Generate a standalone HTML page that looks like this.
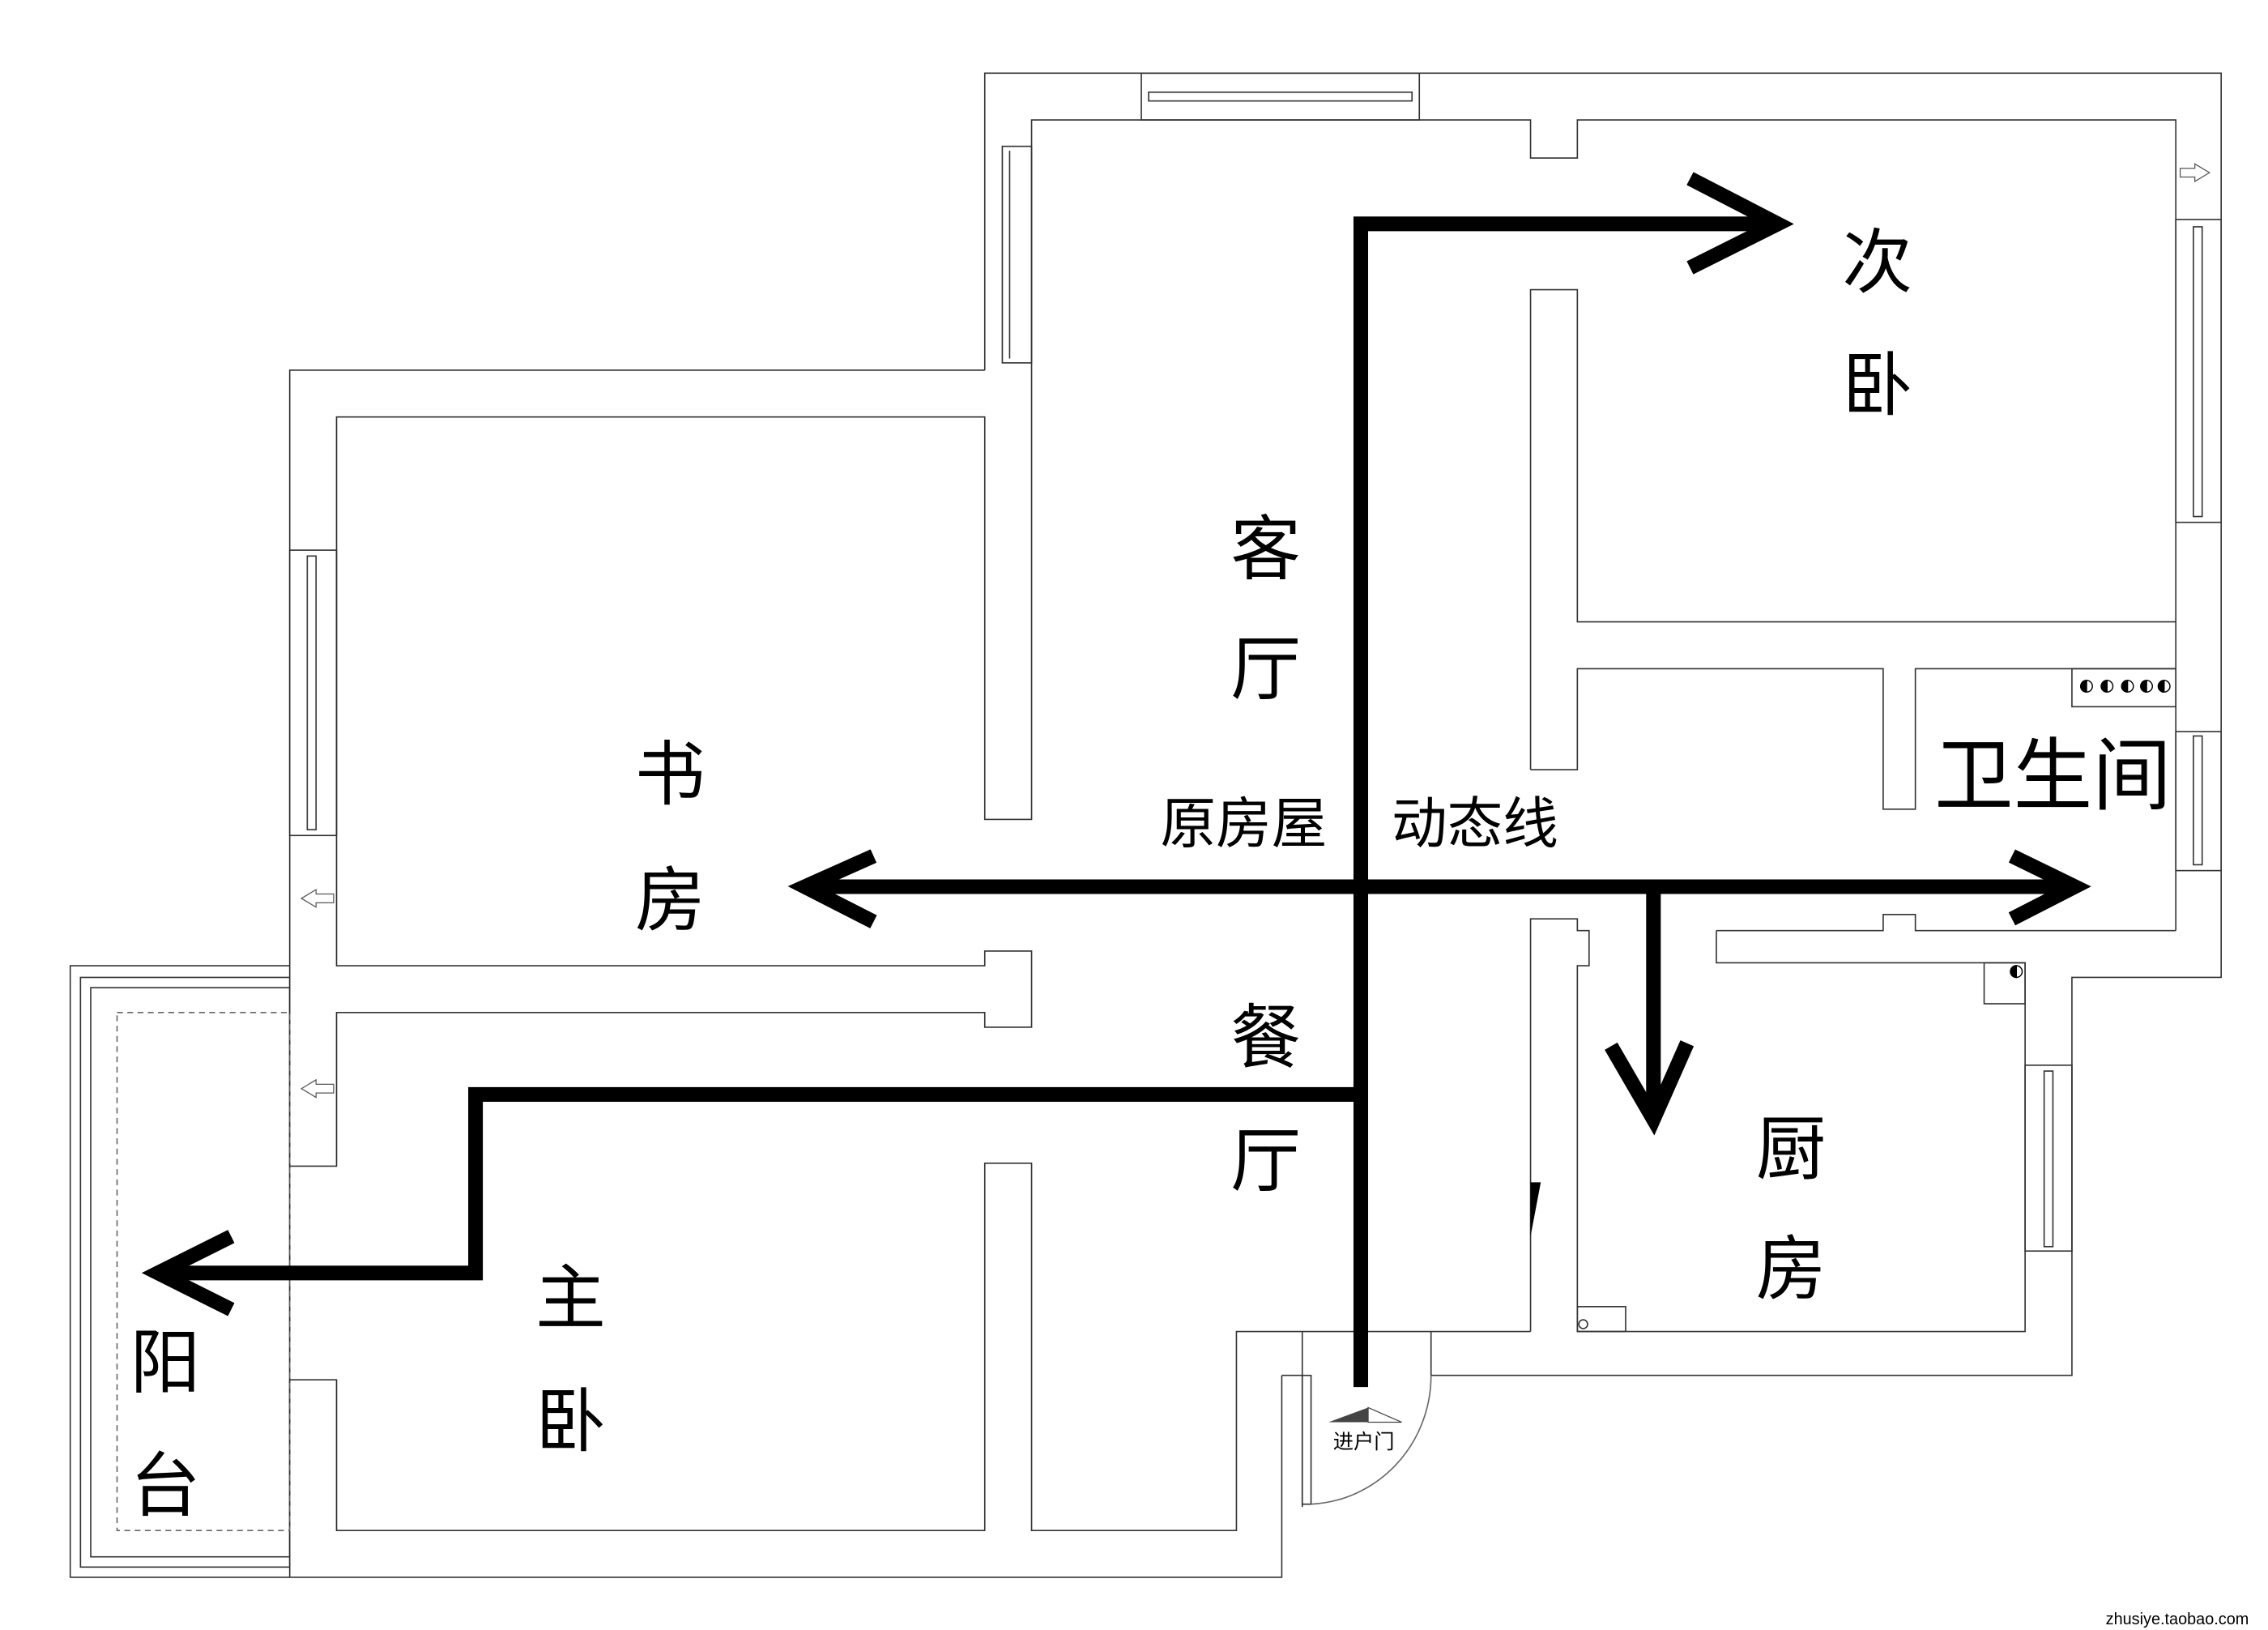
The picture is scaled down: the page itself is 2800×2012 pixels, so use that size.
<!DOCTYPE html>
<html><head><meta charset="utf-8"><style>
html,body{margin:0;padding:0;background:#fff;}
svg{display:block;}
text{font-family:"Liberation Sans","Noto Sans CJK SC",sans-serif;fill:#000;}
</style></head><body>
<svg width="2800" height="2012" viewBox="0 0 1550 1114" preserveAspectRatio="none" xmlns="http://www.w3.org/2000/svg">
<g fill="none" stroke="#333" stroke-width="0.9">
<!-- outer outline -->
<polyline points="673,253 673,50 1518,50 1518,668 1416,668 1416,940 978,940"/>
<polyline points="876,940 876,1078 48,1078 48,660 198,660"/>
<polyline points="198,797 198,253 673,253"/>
<line x1="876" y1="940" x2="890" y2="940"/>
<!-- living room top / left -->
<polyline points="705,250 705,82 1046,82 1046,108 1078,108 1078,82 1487,82 1487,636"/>
<polyline points="705,250 705,560 673,560 673,285 230,285 230,660 673,660 673,650 705,650 705,702 673,702 673,692 230,692 230,797 198,797"/>
<!-- windows -->
<rect x="685" y="100" width="20" height="148"/><line x1="690" y1="103" x2="690" y2="245"/>
<rect x="780" y="50" width="190" height="32"/><rect x="785" y="63" width="180" height="6"/>
<rect x="198" y="376" width="32" height="195"/><rect x="210" y="380" width="6" height="187"/>
<rect x="1487" y="150" width="31" height="207"/><rect x="1499" y="155" width="6" height="198"/>
<rect x="1487" y="500" width="31" height="95"/><rect x="1499" y="503" width="6" height="88"/>
<rect x="1384" y="728" width="32" height="127"/><rect x="1397" y="732" width="6" height="120"/>
<!-- 主卧 -->
<polyline points="198,943 230,943 230,1046 673,1046 673,795 705,795 705,1046 845,1046 845,910 1046,910"/>
<line x1="198" y1="943" x2="198" y2="1078"/>
<line x1="890" y1="910" x2="890" y2="1030"/>
<rect x="890" y="940" width="6" height="88"/>
<path d="M896,1028 A86,88 0 0 0 978,940" stroke="#666"/>
<line x1="978" y1="910" x2="978" y2="940"/>
<!-- balcony -->
<rect x="55" y="668" width="143" height="403"/>
<rect x="62" y="675" width="136" height="389"/>
<rect x="80" y="692" width="118" height="354" stroke-dasharray="4,3" stroke="#666"/>
<!-- middle walls -->
<polyline points="1046,526 1046,198 1078,198 1078,425 1487,425"/>
<polyline points="1046,526 1078,526 1078,457 1287,457 1287,553 1309,553 1309,457 1487,457"/>
<rect x="1416" y="457" width="71" height="26"/>
<polyline points="1173,636 1287,636 1287,625 1309,625 1309,636 1487,636"/>
<polyline points="1173,636 1173,658 1384,658 1384,910 1078,910 1078,660 1086,660 1086,636 1078,636 1078,628 1046,628 1046,910"/>
<rect x="1356" y="658" width="28" height="28"/>
<rect x="1078" y="893" width="33" height="17"/>
<circle cx="1082" cy="905" r="3"/>
</g>
<!-- fixtures -->
<g stroke="#000" stroke-width="0.8">
<circle cx="1426" cy="469" r="4" fill="#fff"/><path d="M1426,465 A4,4 0 0 0 1426,473Z" fill="#000"/>
<circle cx="1440" cy="469" r="4" fill="#fff"/><path d="M1440,465 A4,4 0 0 0 1440,473Z" fill="#000"/>
<circle cx="1454" cy="469" r="4" fill="#fff"/><path d="M1454,465 A4,4 0 0 0 1454,473Z" fill="#000"/>
<circle cx="1467" cy="469" r="4" fill="#fff"/><path d="M1467,465 A4,4 0 0 0 1467,473Z" fill="#000"/>
<circle cx="1479" cy="469" r="4" fill="#fff"/><path d="M1479,465 A4,4 0 0 0 1479,473Z" fill="#000"/>
<circle cx="1378" cy="664" r="4" fill="#fff"/><path d="M1378,660 A4,4 0 0 0 1378,668Z" fill="#000"/>
</g>
<polygon points="1046,808 1053,808 1046,845" fill="#000"/>
<g fill="#fff" stroke="#555" stroke-width="0.7">
<polygon points="1490,118 1500,112 1500,115 1510,115 1510,121 1500,121 1500,124" transform="rotate(180 1500 118)"/>
<polygon points="206,614 216,608 216,611 228,611 228,617 216,617 216,620"/>
<polygon points="206,744 216,738 216,741 228,741 228,747 216,747 216,750"/>
</g>
<polygon points="908,972 935,962 935,972" fill="#444"/>
<polygon points="935,962 958,972 935,972" fill="#fff" stroke="#444" stroke-width="0.7"/>
<text x="932" y="990" font-size="14" text-anchor="middle">进户门</text>
<!-- flow arrows -->
<g fill="none" stroke="#000" stroke-width="10">
<polyline points="930,948 930,153 1210,153"/>
<polyline points="1155,122 1215,153 1155,183"/>
<line x1="552" y1="606" x2="1412" y2="606"/>
<polyline points="597,585 550,606 597,630"/>
<polyline points="1375,585 1418,606 1375,628"/>
<line x1="1130" y1="606" x2="1130" y2="760"/>
<polyline points="1101,715 1130,765 1153,713"/>
<polyline points="930,748 325,748 325,870 110,870"/>
<polyline points="158,845 108,870 158,895"/>
</g>
<!-- labels -->
<g font-size="48" text-anchor="middle">
<text x="1283" y="196">次</text><text x="1283" y="280">卧</text>
<text x="865" y="392">客</text><text x="865" y="474">厅</text>
<text x="458" y="546">书</text><text x="458" y="632">房</text>
<text x="865" y="726">餐</text><text x="865" y="810">厅</text>
<text x="1224" y="802">厨</text><text x="1224" y="884">房</text>
<text x="390" y="904">主</text><text x="390" y="988">卧</text>
<text x="113" y="948">阳</text><text x="113" y="1032">台</text>
</g>
<text x="850" y="576" font-size="38" text-anchor="middle">原房屋</text>
<text x="1008" y="576" font-size="38" text-anchor="middle">动态线</text>
<text x="1403" y="549" font-size="54" text-anchor="middle">卫生间</text>
<text x="1488" y="1110" font-size="11" text-anchor="middle">zhusiye.taobao.com</text>
</svg>
</body></html>
